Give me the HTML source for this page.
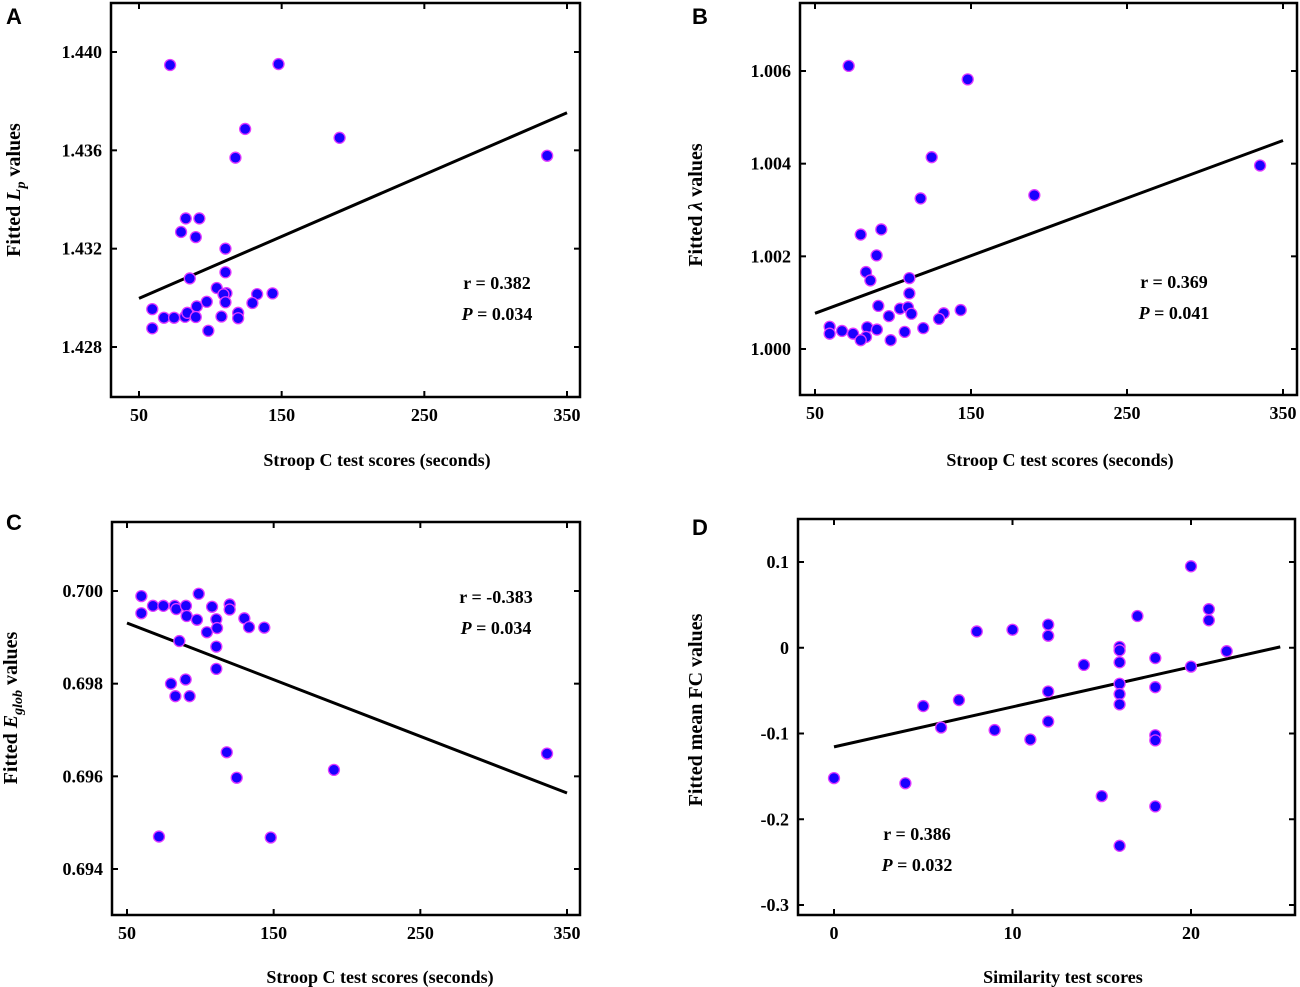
<!DOCTYPE html>
<html><head><meta charset="utf-8">
<style>
html,body{margin:0;padding:0;background:#fff;}
svg{display:block;}
text{font-family:"Liberation Serif",serif;font-weight:bold;fill:#000;}
.lt{font-family:"Liberation Sans",sans-serif;font-weight:bold;}
</style></head>
<body>
<svg id="fig" width="1300" height="987" viewBox="0 0 1300 987" xmlns="http://www.w3.org/2000/svg"></svg>
<script>
// ---- data ----
const aX = [71.8,147.8,124.4,190.6,117.6,336.1,82.8,92.3,79.5,89.8,110.6,110.6,85.6,104.5,111.3,109.2,132.8,143.6,110.6,129.5,97.5,90.5,59.3,67.5,74.6,82.3,83.9,89.8,107.8,119.5,119.5,59.3,98.6];
const aY = [1.43947,1.43951,1.43687,1.43651,1.43570,1.43578,1.43323,1.43323,1.43268,1.43247,1.43200,1.43104,1.43079,1.43040,1.43019,1.43014,1.43015,1.43018,1.42982,1.42979,1.42984,1.42965,1.42954,1.42919,1.42919,1.42923,1.42939,1.42922,1.42924,1.42939,1.42917,1.42876,1.42866];
const aFit = [[50,1.42998],[350,1.43753]];
const bX = [71.6,147.9,124.8,190.6,117.7,335.3,79.3,92.5,89.5,82.7,85.5,110.5,110.5,90.6,104.5,109.6,111.8,97.4,143.4,132.5,129.5,119.4,59.4,59.4,67.3,74.4,83.5,82.7,79.3,89.7,98.5,107.5];
const bY = [1.00611,1.00582,1.00414,1.00332,1.00325,1.00396,1.00247,1.00258,1.00202,1.00166,1.00148,1.00153,1.00120,1.00093,1.00087,1.00090,1.00076,1.00071,1.00084,1.00077,1.00065,1.00045,1.00048,1.00033,1.00039,1.00033,1.00047,1.00026,1.00019,1.00042,1.00019,1.00037];
const bFit = [[50,1.00077],[350,1.00450]];
const cX = [59.8,59.8,67.7,74.8,82.5,83.6,90.2,90.7,98.9,97.7,108.0,104.5,110.9,111.4,120.0,120.0,130.0,133.2,143.6,85.7,110.9,110.9,80.0,90.0,83.0,92.7,118.0,124.8,191.1,336.4,71.8,148.0];
const cY = [0.69989,0.69952,0.69968,0.69968,0.69968,0.69961,0.69968,0.69946,0.69994,0.69938,0.69966,0.69911,0.69939,0.69920,0.69971,0.69960,0.69941,0.69922,0.69921,0.69892,0.69880,0.69832,0.69800,0.69809,0.69773,0.69773,0.69652,0.69597,0.69614,0.69649,0.69470,0.69468];
const cFit = [[50,0.69931],[350,0.69564]];
const dX = [0,4,5,6,7,8,9,10,11,12,12,12,12,14,15,16,16,16,16,16,16,16,17,18,18,18,18,18,20,20,21,21,22];
const dY = [-0.152,-0.158,-0.068,-0.093,-0.061,0.019,-0.096,0.021,-0.107,0.027,0.014,-0.051,-0.086,-0.020,-0.173,0.001,-0.003,-0.017,-0.042,-0.054,-0.066,-0.231,0.037,-0.012,-0.046,-0.102,-0.108,-0.185,0.095,-0.022,0.045,0.032,-0.004];
const dFit = [[0,-0.1156],[25,0.001]];
const xTicksStroop = [50,150,250,350];
const xTickLabelsStroop = ["50","150","250","350"];
const aYTicks = [1.428,1.432,1.436,1.440];
const aYTickLabels = ["1.428","1.432","1.436","1.440"];
const bYTicks = [1.000,1.002,1.004,1.006];
const bYTickLabels = ["1.000","1.002","1.004","1.006"];
const cYTicks = [0.694,0.696,0.698,0.700];
const cYTickLabels = ["0.694","0.696","0.698","0.700"];
const dXTicks = [0,10,20];
const dXTickLabels = ["0","10","20"];
const dYTicks = [-0.3,-0.2,-0.1,0,0.1];
const dYTickLabels = ["-0.3","-0.2","-0.1","0","0.1"];

const NS = "http://www.w3.org/2000/svg";
const svg = document.getElementById('fig');
function mk(tag, attrs, parent){
  const e = document.createElementNS(NS, tag);
  for (const k in attrs) e.setAttribute(k, attrs[k]);
  (parent||svg).appendChild(e);
  return e;
}
function lin(d0,d1,p0,p1){ return v => p0 + (v-d0)*(p1-p0)/(d1-d0); }

function panel(cfg){
  const g = mk('g',{});
  
  
  const sx = lin(cfg.xd[0],cfg.xd[1],cfg.xp[0],cfg.xp[1]);
  const sy = lin(cfg.yd[0],cfg.yd[1],cfg.yp[0],cfg.yp[1]);
  const f = cfg.frame;
  const fr = mk('rect',{x:f[0],y:f[1],width:f[2]-f[0],height:f[3]-f[1],fill:'none',stroke:'#000','stroke-width':2.5},g);
  
  
  cfg.xt.forEach((t,i)=>{
    const x = sx(t);
    mk('line',{x1:x,y1:f[3],x2:x,y2:f[3]-6,stroke:'#000','stroke-width':2},g);
    mk('line',{x1:x,y1:f[1],x2:x,y2:f[1]+6,stroke:'#000','stroke-width':2},g);
    const tl = mk('text',{x:x,y:f[3]+24,'text-anchor':'middle','font-size':18},g);
    tl.textContent = cfg.xtl[i];
    
    
  });
  cfg.yt.forEach((t,i)=>{
    const y = sy(t);
    mk('line',{x1:f[0],y1:y,x2:f[0]+6,y2:y,stroke:'#000','stroke-width':2},g);
    mk('line',{x1:f[2],y1:y,x2:f[2]-6,y2:y,stroke:'#000','stroke-width':2},g);
    const tl = mk('text',{x:f[0]-9,y:y+6,'text-anchor':'end','font-size':18},g);
    tl.textContent = cfg.ytl[i];
    
    
  });
  const ln = mk('line',{x1:sx(cfg.fit[0][0]),y1:sy(cfg.fit[0][1]),x2:sx(cfg.fit[1][0]),y2:sy(cfg.fit[1][1]),stroke:'#000','stroke-width':3},g);
  
  
  cfg.x.forEach((v,i)=>{
    const c = mk('circle',{cx:sx(v),cy:sy(cfg.y[i]),r:5.5,fill:'#1a00ff',stroke:'#e23cff','stroke-width':1.3},g);
    
    
  });
  const r = mk('text',{x:cfg.ann[0],y:cfg.ann[1],'text-anchor':'middle','font-size':18},g);
  r.textContent = cfg.rtxt;
  
  
  const p = mk('text',{x:cfg.ann[0],y:cfg.ann[1]+31,'text-anchor':'middle','font-size':18},g);
  p.innerHTML = '<tspan font-style="italic">P</tspan> = ' + cfg.ptxt;
  
  
  const L = mk('text',{x:cfg.letter[0],y:cfg.letter[1],'font-size':22,'class':'lt'},g);
  L.textContent = cfg.L;
  
  
  const xt = mk('text',{x:cfg.xtitle[0],y:cfg.xtitle[1],'text-anchor':'middle','font-size':18},g);
  xt.textContent = cfg.xlab;
  
  
  const yt = mk('text',{x:0,y:0,'text-anchor':'middle','font-size':20,transform:`translate(${cfg.ytitle[0]},${cfg.ytitle[1]}) rotate(-90)`},g);
  yt.innerHTML = cfg.ylab;
  
  
}

panel({name:'panel-a',frame:[111,3,580,397],xd:[50,350],xp:[139,567],yd:[1.428,1.440],yp:[347,52],
  x:aX,y:aY,fit:aFit,xt:xTicksStroop,xtl:xTickLabelsStroop,yt:aYTicks,ytl:aYTickLabels,
  ann:[497,289],rtxt:'r = 0.382',ptxt:'0.034',L:'A',letter:[6,24],xtitle:[377,466],
  xlab:'Stroop C test scores (seconds)',ytitle:[20,190],
  ylab:'Fitted <tspan font-style="italic">L</tspan><tspan font-style="italic" font-size="14" dy="5">p</tspan><tspan dy="-5"> values</tspan>'});
panel({name:'panel-b',frame:[800,3,1297,395],xd:[50,350],xp:[815,1283],yd:[1.000,1.006],yp:[349,71],
  x:bX,y:bY,fit:bFit,xt:xTicksStroop,xtl:xTickLabelsStroop,yt:bYTicks,ytl:bYTickLabels,
  ann:[1174,288],rtxt:'r = 0.369',ptxt:'0.041',L:'B',letter:[692,24],xtitle:[1060,466],
  xlab:'Stroop C test scores (seconds)',ytitle:[702,205],
  ylab:'Fitted <tspan font-style="italic">λ</tspan> values'});
panel({name:'panel-c',frame:[112,522,580,915],xd:[50,350],xp:[127,567],yd:[0.694,0.700],yp:[869,591],
  x:cX,y:cY,fit:cFit,xt:xTicksStroop,xtl:xTickLabelsStroop,yt:cYTicks,ytl:cYTickLabels,
  ann:[496,603],rtxt:'r = -0.383',ptxt:'0.034',L:'C',letter:[6,530],xtitle:[380,983],
  xlab:'Stroop C test scores (seconds)',ytitle:[17,708],
  ylab:'Fitted <tspan font-style="italic">E</tspan><tspan font-style="italic" font-size="14" dy="5">glob</tspan><tspan dy="-5"> values</tspan>'});
panel({name:'panel-d',frame:[798,519,1295,915],xd:[0,20],xp:[834,1191],yd:[-0.3,0.1],yp:[905,562],
  x:dX,y:dY,fit:dFit,xt:dXTicks,xtl:dXTickLabels,yt:dYTicks,ytl:dYTickLabels,
  ann:[917,840],rtxt:'r = 0.386',ptxt:'0.032',L:'D',letter:[692,535],xtitle:[1063,983],
  xlab:'Similarity test scores',ytitle:[702,710],
  ylab:'Fitted mean FC  values'});
</script>
</body></html>
